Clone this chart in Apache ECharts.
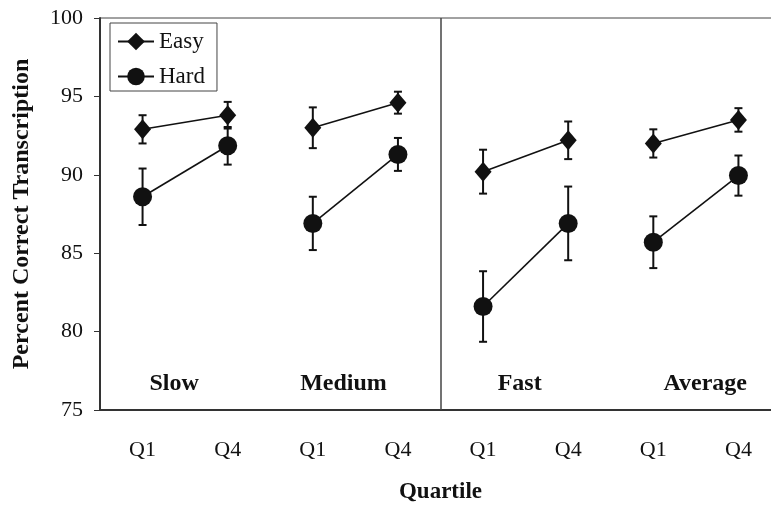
<!DOCTYPE html>
<html>
<head>
<meta charset="utf-8">
<script src="https://cdn.jsdelivr.net/npm/echarts@6/dist/echarts.min.js"></script>
<style>
html,body{margin:0;padding:0;background:#fff;}
#chart{width:771px;height:506px;}
</style>
</head>
<body>
<div id="chart"></div>
<script>
// ---- data ----
const categories = ['Q1', 'Q4', 'Q1', 'Q4', 'Q1', 'Q4', 'Q1', 'Q4'];
const groups = ['Slow', 'Medium', 'Fast', 'Average'];
const easyMean = [92.9, 93.8, 93.0, 94.6, 90.2, 92.2, 92.0, 93.5];
const easyErr = [0.9, 0.85, 1.3, 0.7, 1.4, 1.2, 0.9, 0.75];
const hardMean = [88.6, 91.85, 86.9, 91.3, 81.6, 86.9, 85.7, 89.95];
const hardErr = [1.8, 1.2, 1.7, 1.05, 2.25, 2.35, 1.65, 1.28];
const groupLabelX = [0.37, 2.36, 4.43, 6.61];
const groupLabelY = 76.7;
const separatorX = 3.5;
const yTicks = { min: 75, max: 100, interval: 5 };

const FONT = 'Liberation Serif';
const INK = '#111';

const chart = echarts.init(document.getElementById('chart'), null, { renderer: 'canvas' });

const series = [];
function addLines(name, means, symbol, size) {
  for (let g = 0; g < groups.length; g++) {
    series.push({
      name: name,
      type: 'line',
      xAxisIndex: 1,
      data: [[2 * g, means[2 * g]], [2 * g + 1, means[2 * g + 1]]],
      symbol: symbol,
      symbolSize: size,
      lineStyle: { color: INK, width: 1.6 },
      itemStyle: { color: INK },
      z: 3
    });
  }
}
addLines('Easy', easyMean, 'diamond', [17, 20]);
addLines('Hard', hardMean, 'circle', 19);

function errData(means, errs) {
  return means.map((m, i) => [i, m, errs[i]]);
}
function errRender(params, api) {
  const x = api.value(0), m = api.value(1), e = api.value(2);
  const top = api.coord([x, m + e]);
  const bot = api.coord([x, m - e]);
  const cap = 4;
  const st = { stroke: INK, lineWidth: 2 };
  return {
    type: 'group',
    children: [
      { type: 'line', shape: { x1: top[0], y1: top[1], x2: bot[0], y2: bot[1] }, style: st },
      { type: 'line', shape: { x1: top[0] - cap, y1: top[1], x2: top[0] + cap, y2: top[1] }, style: st },
      { type: 'line', shape: { x1: bot[0] - cap, y1: bot[1], x2: bot[0] + cap, y2: bot[1] }, style: st }
    ]
  };
}
series.push({ type: 'custom', xAxisIndex: 1, data: errData(easyMean, easyErr), renderItem: errRender, z: 2, silent: true });
series.push({ type: 'custom', xAxisIndex: 1, data: errData(hardMean, hardErr), renderItem: errRender, z: 2, silent: true });

// group labels + separator
series.push({
  type: 'scatter',
  xAxisIndex: 1,
  symbolSize: 0,
  silent: true,
  itemStyle: { color: INK, opacity: 1 },
  data: groups.map((g, i) => ({ name: g, value: [groupLabelX[i], groupLabelY] })),
  label: {
    show: true,
    position: 'inside',
    formatter: p => p.name,
    fontFamily: FONT,
    fontWeight: 'bold',
    fontSize: 24,
    color: INK,
    opacity: 1,
    textBorderWidth: 0
  },
  markLine: {
    silent: true,
    symbol: 'none',
    label: { show: false },
    lineStyle: { type: 'solid', color: '#444', width: 1.5, opacity: 1 },
    data: [[{ coord: [separatorX, yTicks.min] }, { coord: [separatorX, yTicks.max] }]]
  }
});

chart.setOption({
  animation: false,
  backgroundColor: '#fff',
  grid: {
    left: 100, top: 18, width: 681, height: 392,
    outerBoundsMode: 'none',
    containLabel: false,
    show: true, borderColor: '#444', borderWidth: 1, backgroundColor: 'transparent'
  },
  legend: {
    data: ['Easy', 'Hard'],
    orient: 'vertical',
    left: 110,
    top: 23,
    itemWidth: 36,
    itemHeight: 22,
    itemGap: 12,
    padding: [7, 12, 3, 7],
    borderColor: '#444',
    borderWidth: 1,
    textStyle: { fontFamily: FONT, fontSize: 23, color: INK, lineHeight: 23 }
  },
  xAxis: [
    {
      type: 'category',
      data: categories,
      boundaryGap: true,
      position: 'bottom',
      axisLine: { show: true, onZero: false, lineStyle: { color: '#333', width: 2 } },
      axisTick: { show: false },
      axisLabel: { fontFamily: FONT, fontSize: 22, color: INK, margin: 29, interval: 0 },
      name: 'Quartile',
      nameLocation: 'middle',
      nameGap: 71,
      nameTextStyle: { fontFamily: FONT, fontWeight: 'bold', fontSize: 23, color: INK },
      splitLine: { show: false }
    },
    {
      type: 'value',
      min: -0.5,
      max: 7.5,
      show: false,
      splitLine: { show: false }
    }
  ],
  yAxis: {
    type: 'value',
    min: yTicks.min,
    max: yTicks.max,
    interval: yTicks.interval,
    axisLine: { show: true, onZero: false, lineStyle: { color: '#333', width: 2 } },
    axisTick: { show: true, inside: false, length: 6, lineStyle: { color: '#333', width: 1 } },
    axisLabel: { fontFamily: FONT, fontSize: 22, color: INK, margin: 17 },
    splitLine: { show: false },
    name: 'Percent Correct Transcription',
    nameLocation: 'middle',
    nameGap: 66,
    nameTextStyle: { fontFamily: FONT, fontWeight: 'bold', fontSize: 24, color: INK }
  },
  series: series
});
</script>
</body>
</html>
